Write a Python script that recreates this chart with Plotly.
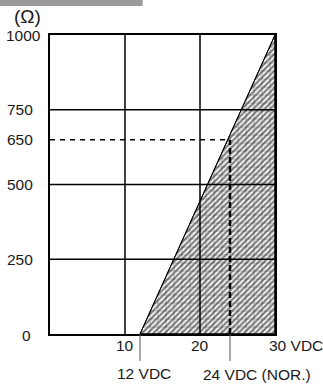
import plotly.graph_objects as go

# Coil resistance vs. operating voltage
volt_range = [12, 30, 30]          # V: boundary of the usable region
ohm_range = [0, 1000, 0]           # Ω
nominal_v = 24
nominal_ohm = 650
x_ticks = [10, 20, 30]
x_tick_text = ["10", "20", "30 VDC"]
y_ticks = [0, 250, 500, 650, 750, 1000]
y_tick_text = ["0", "250", "500", "650", "750", "1000"]
grid_x = [10, 20]
grid_y = [250, 500, 750]
marker_v = [12, 24]
marker_text = ["12 VDC", "24 VDC (NOR.)"]

FONT = "Liberation Sans, Arial, sans-serif"
TXT = "#1a1a1a"
FS = 15.5

fig = go.Figure()

# hatched region (diagonal lines + fine grid)
fig.add_trace(go.Scatter(
    x=volt_range + [volt_range[0]], y=ohm_range + [ohm_range[0]],
    mode="lines", fill="toself", line=dict(color="black", width=1),
    fillcolor="white",
    fillpattern=dict(shape="/", size=4, solidity=0.55, fgcolor="black", bgcolor="white"),
    hoverinfo="skip", showlegend=False))
fig.add_trace(go.Scatter(
    x=volt_range + [volt_range[0]], y=ohm_range + [ohm_range[0]],
    mode="lines", fill="toself", line=dict(color="black", width=1),
    fillcolor="rgba(0,0,0,0)",
    fillpattern=dict(shape="+", size=8, solidity=0.15, fgcolor="rgba(0,0,0,0.7)",
                     bgcolor="rgba(0,0,0,0)"),
    hoverinfo="skip", showlegend=False))

shapes = []
for gx in grid_x:
    shapes.append(dict(type="line", xref="x", yref="y", x0=gx, x1=gx, y0=0, y1=1000,
                       line=dict(color="black", width=1.5), layer="above"))
for gy in grid_y:
    shapes.append(dict(type="line", xref="x", yref="y", x0=0, x1=30, y0=gy, y1=gy,
                       line=dict(color="black", width=1.5), layer="above"))
# nominal operating point guides
shapes.append(dict(type="line", xref="x", yref="y", x0=0, x1=nominal_v,
                   y0=nominal_ohm, y1=nominal_ohm,
                   line=dict(color="black", width=1.5, dash="5px,5px"), layer="above"))
shapes.append(dict(type="line", xref="x", yref="y", x0=nominal_v, x1=nominal_v,
                   y0=0, y1=nominal_ohm,
                   line=dict(color="black", width=2.5, dash="6px,3px"), layer="above"))
# leader ticks below the axis for marked voltages
for mv in marker_v:
    shapes.append(dict(type="line", xref="x", yref="paper", x0=mv, x1=mv,
                       y0=0, y1=-0.09, line=dict(color="#555555", width=1)))
# grey title strip
shapes.append(dict(type="rect", xref="paper", yref="paper", x0=-0.23, x1=0.412,
                   y0=1.097, y1=1.13, fillcolor="#9b9b9d", line=dict(width=0)))

annotations = []
for v, t in zip(y_ticks, y_tick_text):
    xs, ys = -15, 0
    if v == 1000:
        xs, ys = -7, 0
    if v == 0:
        xs, ys = -17, -1
    annotations.append(dict(x=0, y=v, xref="paper", yref="y", text=t, showarrow=False,
                            xanchor="right", yanchor="middle", xshift=xs, yshift=ys,
                            font=dict(family=FONT, size=FS, color=TXT)))
annotations.append(dict(x=0, y=1000, xref="paper", yref="y", text="(Ω)", showarrow=False,
                        xanchor="right", yanchor="middle", xshift=-7, yshift=19,
                        font=dict(family=FONT, size=19, color=TXT)))
for v, t in zip(x_ticks, x_tick_text):
    if v == 30:
        annotations.append(dict(x=v, y=0, xref="x", yref="y", text=t, showarrow=False,
                                xanchor="left", yanchor="middle", xshift=-8, yshift=-11,
                                font=dict(family=FONT, size=FS, color=TXT)))
    else:
        annotations.append(dict(x=v, y=0, xref="x", yref="y", text=t, showarrow=False,
                                xanchor="center", yanchor="middle", yshift=-11,
                                font=dict(family=FONT, size=FS, color=TXT)))
annotations.append(dict(x=marker_v[0], y=0, xref="x", yref="y", text=marker_text[0],
                        showarrow=False, xanchor="center", yanchor="middle",
                        xshift=4, yshift=-39, font=dict(family=FONT, size=FS, color=TXT)))
annotations.append(dict(x=marker_v[1], y=0, xref="x", yref="y", text=marker_text[1],
                        showarrow=False, xanchor="left", yanchor="middle",
                        xshift=-29, yshift=-40, font=dict(family=FONT, size=FS, color=TXT)))

fig.update_layout(
    width=323, height=385,
    margin=dict(l=50, r=48, t=35, b=51),
    paper_bgcolor="white", plot_bgcolor="white",
    shapes=shapes, annotations=annotations,
    xaxis=dict(range=[0, 30], showgrid=False, zeroline=False, showticklabels=False,
               ticks="", showline=True, linecolor="black", linewidth=2, mirror=True),
    yaxis=dict(range=[0, 1000], showgrid=False, zeroline=False, showticklabels=False,
               ticks="", showline=True, linecolor="black", linewidth=2, mirror=True),
)

fig.write_html("out.html")
